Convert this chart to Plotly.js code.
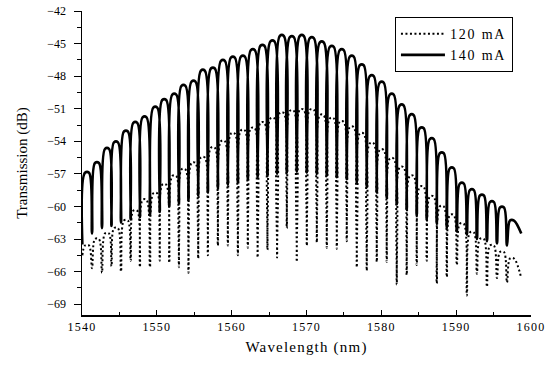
<!DOCTYPE html>
<html>
<head>
<meta charset="utf-8">
<script src="https://cdn.plot.ly/plotly-3.0.1.min.js"></script>
<style>
  html, body { margin: 0; padding: 0; background: #fff; }
  #chart { width: 553px; height: 367px; }
  /* slightly open lettering, as in the printed figure */
  .legendtext { letter-spacing: 1.8px; }
  .xtitle { letter-spacing: 1.2px; }
  .xtick text { letter-spacing: 1.2px; }
</style>
</head>
<body>
<div id="chart"></div>
<script>
// Comb transmission spectrum at two drive currents.
// Fringe crest wavelengths (nm)
const crestWl = [
  1540.67, 1542.00, 1543.34, 1544.54, 1545.87, 1547.12, 1548.36, 1549.79, 1550.99, 1552.33,
  1553.56, 1554.90, 1556.15, 1557.49, 1558.83, 1560.16, 1561.50, 1562.83, 1564.11, 1565.45,
  1566.70, 1568.04, 1569.37, 1570.71, 1572.04, 1573.38, 1574.71, 1576.05, 1577.38, 1578.72,
  1580.05, 1581.39, 1582.72, 1584.06, 1585.40, 1586.74, 1588.08, 1589.42, 1590.76, 1592.10,
  1593.44, 1594.78, 1596.12, 1597.46
];
// Notch wavelengths (nm): trace start, the notches between crests, trace end
const notchWl = [
  1540.05, 1541.34, 1542.67, 1543.94, 1545.21, 1546.50, 1547.74, 1549.08, 1550.39, 1551.66,
  1552.95, 1554.23, 1555.53, 1556.82, 1558.16, 1559.49, 1560.83, 1562.16, 1563.47, 1564.78,
  1566.07, 1567.37, 1568.70, 1570.04, 1571.38, 1572.71, 1574.05, 1575.38, 1576.72, 1578.05,
  1579.39, 1580.72, 1582.06, 1583.39, 1584.73, 1586.07, 1587.41, 1588.75, 1590.09, 1591.43,
  1592.77, 1594.11, 1595.45, 1596.79, 1598.70
];

// 140 mA: crest and notch levels (dB)
const crest140 = [
  -56.9, -56.0, -54.7, -54.1, -53.1, -52.3, -51.8, -50.9, -50.2, -49.7,
  -48.9, -48.5, -47.5, -47.3, -46.6, -46.3, -46.2, -45.6, -45.2, -44.8,
  -44.3, -44.4, -44.3, -44.5, -44.9, -45.3, -45.6, -46.2, -47.0, -48.0,
  -48.6, -49.7, -50.7, -51.6, -52.8, -53.8, -55.1, -56.5, -57.9, -58.5,
  -59.0, -59.6, -60.1, -61.3
];
const notch140 = [
  -63.5, -62.5, -62.0, -61.8, -61.5, -61.2, -61.0, -60.8, -60.5, -60.0,
  -59.7, -59.4, -59.0, -58.7, -58.3, -58.0, -57.8, -57.5, -57.3, -57.2,
  -57.0, -56.9, -56.8, -56.9, -57.0, -57.2, -57.3, -57.5, -57.8, -58.2,
  -58.7, -59.2, -59.8, -60.3, -60.8, -61.2, -61.6, -62.0, -62.3, -62.6,
  -63.0, -63.2, -63.4, -63.6, -62.5
];

// 120 mA: crest and notch levels (dB)
const crest120 = [
  -63.6, -63.0, -62.5, -62.0, -61.3, -60.4, -59.4, -58.8, -58.0, -57.2,
  -56.6, -56.0, -55.5, -54.6, -54.0, -53.3, -53.0, -52.8, -52.3, -51.9,
  -51.4, -51.2, -51.1, -51.1, -51.6, -51.9, -52.2, -52.7, -53.3, -54.2,
  -54.8, -55.6, -56.4, -57.2, -58.2, -59.1, -60.0, -60.8, -61.6, -62.4,
  -63.0, -63.6, -64.2, -64.8
];
const notch120 = [
  -64.5, -65.7, -66.1, -65.5, -66.0, -65.0, -65.6, -65.6, -65.0, -65.2,
  -65.6, -66.1, -64.8, -64.5, -63.6, -63.6, -64.5, -63.8, -64.7, -64.0,
  -64.7, -62.0, -65.1, -63.6, -63.3, -63.8, -63.9, -63.2, -65.6, -65.9,
  -65.1, -65.1, -67.2, -66.3, -65.4, -65.0, -67.1, -66.5, -65.4, -68.2,
  -66.2, -67.4, -66.6, -67.0, -66.6
];

const seriesNames = ['120 mA', '140 mA'];

// Half-width (nm) of the flat part of each rounded crest when drawn.
const CREST_HALF = 0.27;

// Walk notch -> crest -> notch ... so the trace follows the comb.
function combTrace(crestLvl, notchLvl) {
  const x = [], y = [];
  for (let i = 0; i < crestWl.length; i++) {
    x.push(notchWl[i]); y.push(notchLvl[i]);
    x.push(crestWl[i] - CREST_HALF); y.push(crestLvl[i]);
    x.push(crestWl[i] + CREST_HALF); y.push(crestLvl[i]);
  }
  x.push(notchWl[notchWl.length - 1]); y.push(notchLvl[notchLvl.length - 1]);
  return { x, y };
}

const t120 = combTrace(crest120, notch120);
const t140 = combTrace(crest140, notch140);

const SERIF = "'Liberation Serif', 'Times New Roman', serif";

const data = [
  {
    x: t120.x, y: t120.y, name: seriesNames[0], type: 'scatter', mode: 'lines',
    line: { color: '#000', width: 2, dash: '2px,2.5px', shape: 'spline', smoothing: 1 }
  },
  {
    x: t140.x, y: t140.y, name: seriesNames[1], type: 'scatter', mode: 'lines',
    line: { color: '#000', width: 2.6, shape: 'spline', smoothing: 1 }
  }
];

const layout = {
  width: 553, height: 367,
  margin: { l: 82, r: 22, t: 11, b: 52 },
  paper_bgcolor: '#fff', plot_bgcolor: '#fff',
  font: { family: SERIF, color: '#000', size: 12 },
  showlegend: true,
  legend: {
    x: 0.697, y: 0.98, xanchor: 'left', yanchor: 'top',
    bgcolor: '#fff', bordercolor: '#000', borderwidth: 1,
    font: { family: SERIF, size: 14, color: '#000' },
    tracegroupgap: 0, itemwidth: 44
  },
  xaxis: {
    range: [1540, 1600], dtick: 10, tick0: 1540,
    showline: true, linecolor: '#000', linewidth: 1.5, mirror: false,
    showgrid: false, zeroline: false,
    ticks: 'inside', ticklen: 5, tickwidth: 1, tickcolor: '#000',
    minor: { dtick: 5, ticks: 'inside', ticklen: 3, tickcolor: '#000', showgrid: false },
    tickfont: { family: SERIF, size: 12, color: '#000' },
    title: { text: 'Wavelength (nm)', font: { family: SERIF, size: 15, color: '#000' }, standoff: 8 }
  },
  yaxis: {
    range: [-70, -42], dtick: 3, tick0: -42,
    showline: true, linecolor: '#000', linewidth: 1.5, mirror: false,
    showgrid: false, zeroline: false,
    ticks: 'outside', ticklen: 7, tickwidth: 1, tickcolor: '#000',
    ticklabelstandoff: 5,
    minor: { dtick: 1.5, ticks: 'outside', ticklen: 4, tickcolor: '#000', showgrid: false },
    tickfont: { family: SERIF, size: 12, color: '#000' },
    title: { text: 'Transmission (dB)', font: { family: SERIF, size: 15, color: '#000' }, standoff: 16 }
  }
};

Plotly.newPlot('chart', data, layout, { staticPlot: true, displayModeBar: false });
</script>
</body>
</html>
